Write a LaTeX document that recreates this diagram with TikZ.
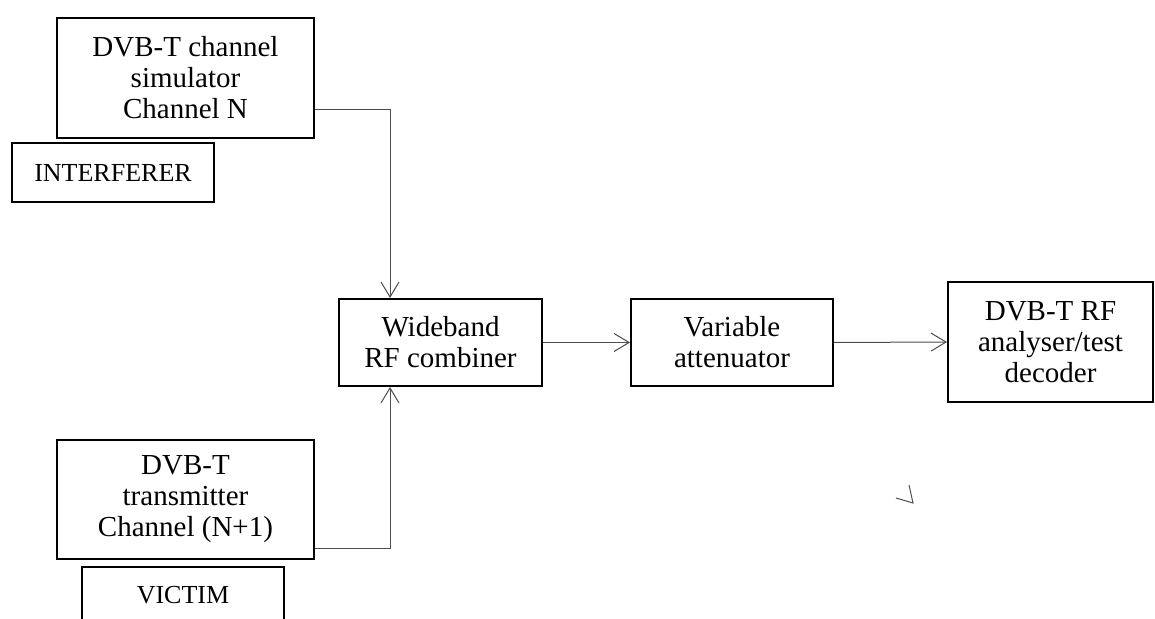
\documentclass[tikz,border=0pt]{standalone}
\usepackage{fontspec}
\setmainfont{Liberation Serif}
\usepackage{tikz}
\usetikzlibrary{arrows.meta,positioning}

\begin{document}
\begin{tikzpicture}[x=0.5pt,y=-0.5pt,
	box/.style={draw,line width=1pt,inner sep=0pt,align=center,
		font=\fontsize{14.5}{15.5}\selectfont},
	tag/.style={draw,line width=1pt,inner sep=0pt,align=center,
		font=\fontsize{13}{14}\selectfont},
	link/.style={draw=black!70,line width=0.5pt},
	tip/.style={-{Straight Barb[length=7.5pt,width=9pt]}}]
	
	\path[use as bounding box,clip] (0,0) rectangle (1155,619);
	
	\node[box,minimum width=128.5pt,minimum height=60pt] (sim) at (185.5,78)
		{DVB-T channel\\simulator\\Channel N};
	\node[tag,minimum width=101pt,minimum height=29.5pt] (intf) at (113,172.5)
		{INTERFERER};
	\node[box,minimum width=128.5pt,minimum height=59.5pt] (tx) at (185.5,499.5)
		{DVB-T\\transmitter\\Channel (N+1)};
	\node[tag,anchor=north,minimum width=101pt,text height=18pt,text depth=40pt] (vic) at (183,566)
		{VICTIM};
	
	\node[box,minimum width=101.5pt,minimum height=43.5pt] (comb) at (440.5,342.5)
		{Wideband\\RF combiner};
	\node[box,minimum width=101pt,minimum height=43.5pt] (att) at (732,342.5)
		{Variable\\attenuator};
	\node[box,minimum width=102.5pt,minimum height=60pt] (ana) at (1050.5,342)
		{DVB-T RF\\analyser/test\\decoder};
	
	\draw[link,tip] ([yshift=-16pt]sim.east) -| ([xshift=-25.25pt]comb.north);
	\draw[link,tip] ([yshift=-24.25pt]tx.east) -| ([xshift=-25.25pt]comb.south);
	\draw[link,tip] (comb.east) -- (att.west);
	\draw[link,tip] (att.east) -- (ana.west);
	
	% loose arrow mark
	\draw[link] (896,498) -- (913,503) -- (909,485);
	
\end{tikzpicture}
\end{document}
